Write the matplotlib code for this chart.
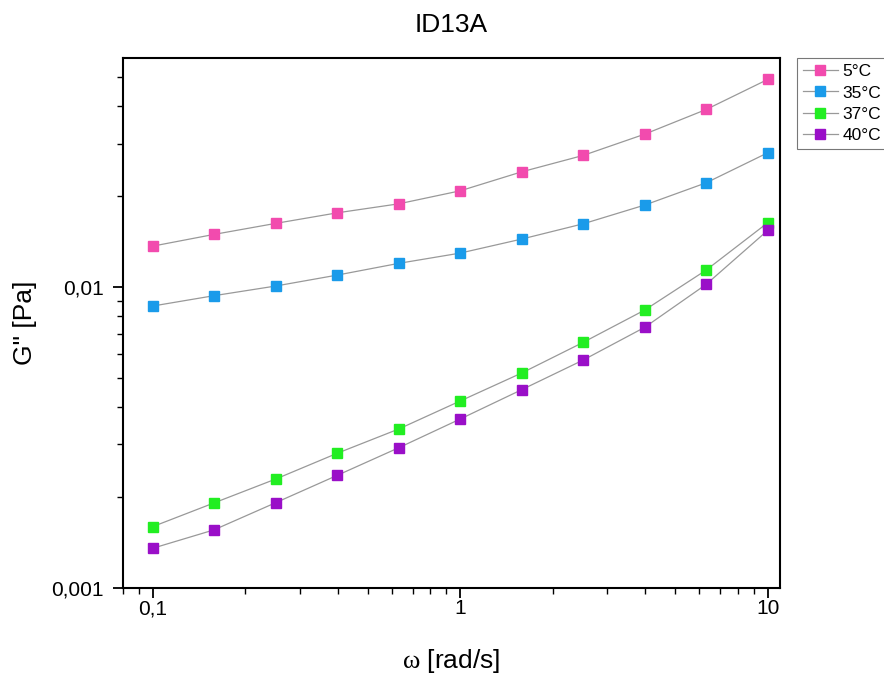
import math
import matplotlib
matplotlib.use("Agg")
import matplotlib.pyplot as plt
from matplotlib.ticker import FuncFormatter, LogLocator, NullFormatter

plt.rcParams['font.family'] = ['Liberation Sans', 'DejaVu Sans']
plt.rcParams['mathtext.fontset'] = 'custom'
plt.rcParams['mathtext.rm'] = 'Liberation Serif'

# frecuencia angular (rad/s)
omega = [0.1, 0.158, 0.251, 0.398, 0.631, 1.0, 1.585, 2.512, 3.981, 6.31, 10.0]

# G'' para cada temperatura (Pa)
g_5 = [0.01368, 0.01496, 0.01628, 0.01765, 0.01891, 0.02089, 0.02416, 0.02739, 0.03223, 0.03893, 0.04898]
g_35 = [0.00865, 0.00936, 0.01008, 0.01096, 0.01199, 0.01297, 0.01444, 0.01623, 0.01873, 0.02221, 0.02794]
g_37 = [0.001599, 0.001916, 0.002301, 0.002803, 0.003375, 0.004182, 0.005181, 0.006551, 0.008386, 0.01139, 0.01636]
g_40 = [0.001355, 0.001559, 0.00192, 0.002367, 0.002924, 0.003643, 0.00456, 0.005721, 0.007348, 0.01021, 0.01543]

etiquetas = ["5°C", "35°C", "37°C", "40°C"]
colores = ["#F24BAE", "#1A9BEA", "#22EE22", "#9A0FC8"]

fig = plt.figure(figsize=(8.84, 6.75), dpi=100)
ax = fig.add_axes([0.139, 0.129, 0.743, 0.785])

for serie, lab, col in zip([g_5, g_35, g_37, g_40], etiquetas, colores):
    ax.plot(omega, serie, color="#999999", linewidth=0.9, marker="s", markersize=7,
            markerfacecolor=col, markeredgecolor=col, label=lab)

ax.set_xscale("log")
ax.set_yscale("log")
ax.set_xlim(0.0799, 10.94)
ax.set_ylim(0.001, 0.0577)


def coma(v, pos):
    # formato con coma decimal
    if v >= 1:
        s = "{:g}".format(v)
    else:
        s = "{:.{}f}".format(v, -int(round(math.log10(v))))
    return s.replace(".", ",")


ax.xaxis.set_major_formatter(FuncFormatter(coma))
ax.yaxis.set_major_formatter(FuncFormatter(coma))
ax.xaxis.set_minor_locator(LogLocator(base=10, subs=range(2, 10)))
ax.yaxis.set_minor_locator(LogLocator(base=10, subs=range(2, 10)))
ax.xaxis.set_minor_formatter(NullFormatter())
ax.yaxis.set_minor_formatter(NullFormatter())

ax.tick_params(which="major", direction="out", length=7, width=1.3, labelsize=15, top=False, right=False)
ax.tick_params(which="minor", direction="out", length=4, width=1.0, top=False, right=False)
ax.tick_params(axis="x", which="major", pad=1)
ax.tick_params(axis="y", which="major", pad=7)
for sp in ax.spines.values():
    sp.set_linewidth(1.5)

ax.set_xlabel(r"$\mathrm{\omega}$ [rad/s]", fontsize=19, labelpad=21)
ax.set_ylabel('G" [Pa]', fontsize=19, labelpad=10)
ax.set_title("ID13A", fontsize=19, pad=19)

leg = ax.legend(loc="upper left", bbox_to_anchor=(1.026, 1.0), fontsize=12.5, frameon=True,
                fancybox=False, edgecolor="#555555", borderpad=0.35, labelspacing=0.35,
                handlelength=2.0, handletextpad=0.3, borderaxespad=0)
leg.get_frame().set_linewidth(0.8)

fig.savefig("out.png", dpi=100)
